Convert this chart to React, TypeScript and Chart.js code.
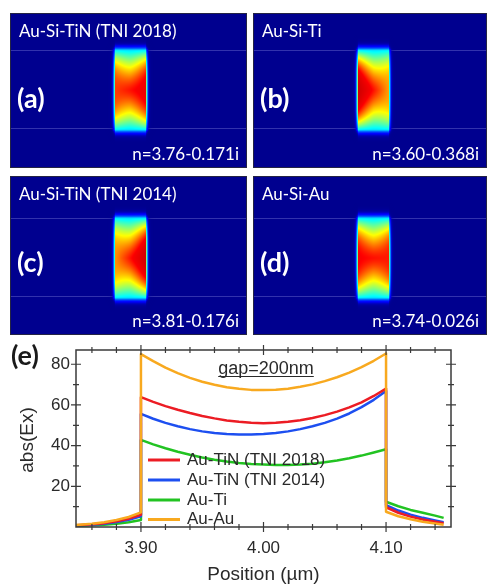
import React, { useEffect, useRef } from "react";
import { Chart, registerables } from "chart.js";
Chart.register(...registerables);

// ---------- DATA ----------
const positions = [
  3.847, 3.86, 3.87, 3.88, 3.89, 3.9,
  3.9, 3.91, 3.92, 3.93, 3.94, 3.95, 3.96, 3.97, 3.98, 3.99, 4.0,
  4.01, 4.02, 4.03, 4.04, 4.05, 4.06, 4.07, 4.08, 4.09, 4.1,
  4.1, 4.11, 4.12, 4.13, 4.14, 4.147,
];
const auTiN2018 = [
  0.8, 1.3, 1.9, 2.8, 4.1, 6.0,
  63.8, 61.5, 59.4, 57.6, 56.0, 54.6, 53.4, 52.4, 51.7, 51.2, 51.0,
  51.2, 51.7, 52.5, 53.6, 55.0, 56.7, 58.8, 61.3, 64.4, 68.0,
  9.7, 7.0, 5.1, 3.7, 2.6, 1.9,
];
const auTiN2014 = [
  0.7, 1.1, 1.6, 2.4, 3.6, 5.3,
  55.6, 53.2, 51.2, 49.5, 48.1, 47.0, 46.2, 45.7, 45.5, 45.5, 45.7,
  46.2, 47.0, 48.1, 49.5, 51.2, 53.3, 55.8, 58.9, 62.5, 66.8,
  10.8, 8.1, 6.1, 4.5, 3.2, 2.3,
];
const auTi = [
  0.5, 0.8, 1.1, 1.6, 2.3, 3.4,
  42.8, 40.6, 38.7, 37.0, 35.5, 34.2, 33.1, 32.2, 31.5, 31.0, 30.7,
  30.5, 30.5, 30.7, 31.1, 31.8, 32.7, 33.8, 35.1, 36.6, 38.2,
  12.4, 10.2, 8.4, 7.0, 5.6, 4.5,
];
const auAu = [
  1.0, 1.6, 2.3, 3.4, 4.9, 7.2,
  85.0, 81.5, 78.3, 75.6, 73.3, 71.4, 69.9, 68.7, 67.9, 67.4, 67.3,
  67.5, 68.0, 68.9, 70.1, 71.7, 73.6, 75.9, 78.6, 81.7, 85.3,
  7.5, 5.3, 3.8, 2.6, 1.7, 1.1,
];
const seriesLabels = ["Au-TiN (TNI 2018)", "Au-TiN (TNI 2014)", "Au-Ti", "Au-Au"];
const seriesValues = [auTiN2018, auTiN2014, auTi, auAu];
const seriesColors = ["#ec1c24", "#1d4ff0", "#22c322", "#f8a91f"];
const seriesOrder = [1, 2, 3, 0];

const xMajorTicks = [3.9, 4.0, 4.1];
const xMinorTicks = [3.86, 3.88, 3.92, 3.94, 3.96, 3.98, 4.02, 4.04, 4.06, 4.08, 4.12, 4.14];
const yMajorTicks = [20, 40, 60, 80];
const yMinorTicks = [10, 30, 50, 70];

const panelTitles = ["Au-Si-TiN (TNI 2018)", "Au-Si-Ti", "Au-Si-TiN (TNI 2014)", "Au-Si-Au"];
const panelLetters = ["(a)", "(b)", "(c)", "(d)"];
const panelIndices = ["n=3.76-0.171i", "n=3.60-0.368i", "n=3.81-0.176i", "n=3.74-0.026i"];
const panelSkew = [0.3, -0.9, 0.8, -0.1];
const rodX = [3.9, 4.1];
const rodY = [0, 0.5];
const layerLines = [0.012, 0.5];

// ---------- helpers ----------
const clamp = (v: number, a: number, b: number) => Math.max(a, Math.min(b, v));
function jet(t: number): [number, number, number] {
  t = clamp(t, 0, 1);
  const r = clamp(1.5 - Math.abs(4 * t - 3), 0, 1);
  const g = clamp(1.5 - Math.abs(4 * t - 2), 0, 1);
  const b = clamp(1.5 - Math.abs(4 * t - 1), 0, 1);
  return [r * 255, g * 255, b * 255];
}
const TB = 0.015;
function field(u: number, v: number, skew: number) {
  const d = Math.abs(v);
  const w = Math.pow(Math.abs(2 * u - 1), 1.5);
  const ic = 0.86 - 0.52 * Math.pow(d, 1.4);
  const ie = 0.87 - 0.52 * Math.pow(d, 2.5);
  let I = ic * (1 - w) + ie * w;
  I += skew * (u - 0.5) * 0.35 * (1 - d * d);
  if (I > 0.88) I = 0.88 + (I - 0.88) * 0.3;
  return I;
}

function fieldPlugin(idx: number) {
  return {
    id: "field" + idx,
    afterDraw(chart: any) {
      const { ctx, width, height } = chart;
      const xs = chart.scales.x, ys = chart.scales.y;
      ctx.save();
      const bg = jet(TB);
      ctx.fillStyle = `rgb(${bg[0]},${bg[1]},${bg[2]})`;
      ctx.fillRect(0, 0, width, height);
      // layer interfaces
      ctx.strokeStyle = "rgba(110,110,210,0.45)";
      ctx.lineWidth = 1.2;
      for (const ly of layerLines) {
        const py = Math.round(ys.getPixelForValue(ly)) + 0.5;
        ctx.beginPath();
        ctx.moveTo(0, py);
        ctx.lineTo(width, py);
        ctx.stroke();
      }
      // rod field map
      const rl = xs.getPixelForValue(rodX[0]);
      const rr = xs.getPixelForValue(rodX[1]);
      const rt = ys.getPixelForValue(rodY[1]);
      const rb = ys.getPixelForValue(rodY[0]);
      const x0 = Math.floor(rl - 10), x1 = Math.ceil(rr + 10);
      const y0 = Math.floor(rt - 14), y1 = Math.ceil(rb + 14);
      const w = x1 - x0, h = y1 - y0;
      const img = ctx.createImageData(w, h);
      const skew = panelSkew[idx];
      for (let j = 0; j < h; j++) {
        for (let i = 0; i < w; i++) {
          const x = x0 + i + 0.5, y = y0 + j + 0.5;
          const dx = Math.max(rl - x, 0, x - rr);
          const dy = Math.max(rt - y, 0, y - rb);
          const u = clamp((x - rl) / (rr - rl), 0, 1);
          const v = clamp(((y - rt) / (rb - rt)) * 2 - 1, -1, 1);
          const I = field(u, v, skew);
          let t: number, a: number;
          if (dx <= 0 && dy <= 0) {
            t = I; a = 1;
          } else {
            const f = Math.exp(-dy / 3.4) * Math.exp(-dx / 1.7) * (dx > 0 ? 0.7 : 1);
            t = TB + (I - TB) * f;
            a = clamp(f * 4, 0, 1);
          }
          const c = jet(t);
          const k = (j * w + i) * 4;
          img.data[k] = c[0]; img.data[k + 1] = c[1]; img.data[k + 2] = c[2];
          img.data[k + 3] = Math.round(a * 255);
        }
      }
      const off = document.createElement("canvas");
      off.width = w; off.height = h;
      off.getContext("2d")!.putImageData(img, 0, 0);
      ctx.drawImage(off, x0, y0);
      // text
      ctx.fillStyle = "#ffffff";
      ctx.textBaseline = "middle";
      ctx.textAlign = "left";
      ctx.font = '17px Lato, "Open Sans", sans-serif';
      ctx.fillText(panelTitles[idx], 9, 19);
      ctx.font = 'bold 27px Lato, "Open Sans", sans-serif';
      const letterY = idx < 2 ? 86 : 87;
      ctx.fillText(panelLetters[idx], 7, letterY);
      ctx.font = '17px Lato, "Open Sans", sans-serif';
      ctx.textAlign = "right";
      ctx.fillText(panelIndices[idx], width - 8, idx < 2 ? 142 : 146);
      // border
      ctx.strokeStyle = "rgba(40,40,60,0.9)";
      ctx.lineWidth = 1;
      ctx.strokeRect(0.5, 0.5, width - 1, height - 1);
      ctx.restore();
    },
  };
}

function FieldPanel(props: { idx: number; left: number; top: number; width: number; height: number; rodTop: number }) {
  const ref = useRef<HTMLCanvasElement>(null);
  const { idx, left, top, width, height, rodTop } = props;
  useEffect(() => {
    const pxX = 155, pxY = 160;
    const xMin = rodX[0] - 105 / pxX;
    const xMax = xMin + width / pxX;
    const yMax = rodY[1] + rodTop / pxY;
    const yMin = yMax - height / pxY;
    const chart = new Chart(ref.current!, {
      type: "scatter",
      data: { datasets: [] },
      options: {
        animation: false,
        responsive: false,
        events: [],
        layout: { padding: 0 },
        scales: {
          x: { type: "linear", display: false, min: xMin, max: xMax },
          y: { type: "linear", display: false, min: yMin, max: yMax },
        },
        plugins: { legend: { display: false }, tooltip: { enabled: false } },
      },
      plugins: [fieldPlugin(idx)],
    } as any);
    return () => chart.destroy();
  }, []);
  return (
    <canvas
      ref={ref}
      width={width}
      height={height}
      style={{ position: "absolute", left, top, width, height }}
    />
  );
}

const FONT = '"Liberation Sans", Arial, sans-serif';
const axisPlugin = {
  id: "axisDecor",
  afterDraw(chart: any) {
    const { ctx, chartArea: ca } = chart;
    const xs = chart.scales.x, ys = chart.scales.y;
    ctx.save();
    ctx.strokeStyle = "#3a3a3a";
    ctx.lineWidth = 1.5;
    ctx.strokeRect(ca.left, ca.top, ca.right - ca.left, ca.bottom - ca.top);
    ctx.lineWidth = 1.2;
    const tickX = (v: number, len: number) => {
      const px = xs.getPixelForValue(v);
      ctx.beginPath();
      ctx.moveTo(px, ca.bottom - len); ctx.lineTo(px, ca.bottom + len);
      ctx.moveTo(px, ca.top - len); ctx.lineTo(px, ca.top + len);
      ctx.stroke();
    };
    const tickY = (v: number, len: number) => {
      const py = ys.getPixelForValue(v);
      ctx.beginPath();
      ctx.moveTo(ca.left - len, py); ctx.lineTo(ca.left + len, py);
      ctx.moveTo(ca.right - len, py); ctx.lineTo(ca.right + len, py);
      ctx.stroke();
    };
    xMinorTicks.forEach((v) => tickX(v, 3));
    xMajorTicks.forEach((v) => tickX(v, 5));
    yMinorTicks.forEach((v) => tickY(v, 3));
    yMajorTicks.forEach((v) => tickY(v, 5));
    // tick labels
    ctx.fillStyle = "#2a2a2a";
    ctx.font = `17px ${FONT}`;
    ctx.textBaseline = "middle";
    ctx.textAlign = "center";
    xMajorTicks.forEach((v) => ctx.fillText(v.toFixed(2), xs.getPixelForValue(v), ca.bottom + 21));
    ctx.textAlign = "right";
    yMajorTicks.forEach((v) => ctx.fillText(String(v), ca.left - 6, ys.getPixelForValue(v)));
    // axis titles
    ctx.font = `19px ${FONT}`;
    ctx.textAlign = "center";
    ctx.fillText("Position (\u00b5m)", (ca.left + ca.right) / 2, 235);
    ctx.save();
    ctx.translate(28, 100);
    ctx.rotate(-Math.PI / 2);
    ctx.fillText("abs(Ex)", 0, 0);
    ctx.restore();
    // panel letter
    ctx.fillStyle = "#1a1a1a";
    ctx.font = 'bold 27px Lato, "Open Sans", sans-serif';
    ctx.textAlign = "left";
    ctx.fillText("(e)", 11, 16);
    // gap annotation
    ctx.fillStyle = "#2a2a2a";
    ctx.font = `18px ${FONT}`;
    ctx.textAlign = "center";
    const gx = 266;
    ctx.fillText("gap=200nm", gx, 29);
    const gw = ctx.measureText("gap=200nm").width;
    ctx.strokeStyle = "#2a2a2a";
    ctx.lineWidth = 1;
    ctx.beginPath();
    ctx.moveTo(gx - gw / 2, 36.5); ctx.lineTo(gx + gw / 2, 36.5);
    ctx.stroke();
    // legend
    const rows = [120, 140, 160, 179.5];
    ctx.font = `17px ${FONT}`;
    ctx.textAlign = "left";
    seriesLabels.forEach((lab, i) => {
      ctx.strokeStyle = seriesColors[i];
      ctx.lineWidth = 3;
      ctx.beginPath();
      ctx.moveTo(148, rows[i]); ctx.lineTo(180, rows[i]);
      ctx.stroke();
      ctx.fillStyle = "#2a2a2a";
      ctx.fillText(lab, 187, rows[i]);
    });
    ctx.restore();
  },
};

function LineChart() {
  const ref = useRef<HTMLCanvasElement>(null);
  useEffect(() => {
    const chart = new Chart(ref.current!, {
      type: "line",
      data: {
        datasets: seriesLabels.map((label, i) => ({
          label,
          data: positions.map((x, j) => ({ x, y: seriesValues[i][j] })),
          borderColor: seriesColors[i],
          backgroundColor: seriesColors[i],
          borderWidth: 2.5,
          borderJoinStyle: "round",
          pointRadius: 0,
          tension: 0,
          fill: false,
          order: seriesOrder[i],
        })),
      },
      options: {
        animation: false,
        responsive: false,
        events: [],
        layout: { padding: { left: 76, top: 10, right: 37, bottom: 57 } },
        scales: {
          x: { type: "linear", display: false, min: 3.847, max: 4.153 },
          y: { type: "linear", display: false, min: 0, max: 87 },
        },
        plugins: { legend: { display: false }, tooltip: { enabled: false } },
      },
      plugins: [axisPlugin],
    } as any);
    return () => chart.destroy();
  }, []);
  return (
    <canvas
      ref={ref}
      width={488}
      height={244}
      style={{ position: "absolute", left: 0, top: 340, width: 488, height: 244 }}
    />
  );
}

export default function App() {
  return (
    <div style={{ position: "fixed", left: 0, top: 0, width: 488, height: 584, background: "#ffffff", overflow: "hidden" }}>
      <FieldPanel idx={0} left={10} top={13} width={237} height={155} rodTop={37} />
      <FieldPanel idx={1} left={253} top={13} width={234} height={155} rodTop={37} />
      <FieldPanel idx={2} left={10} top={176} width={237} height={159} rodTop={42} />
      <FieldPanel idx={3} left={253} top={176} width={234} height={159} rodTop={42} />
      <LineChart />
    </div>
  );
}
